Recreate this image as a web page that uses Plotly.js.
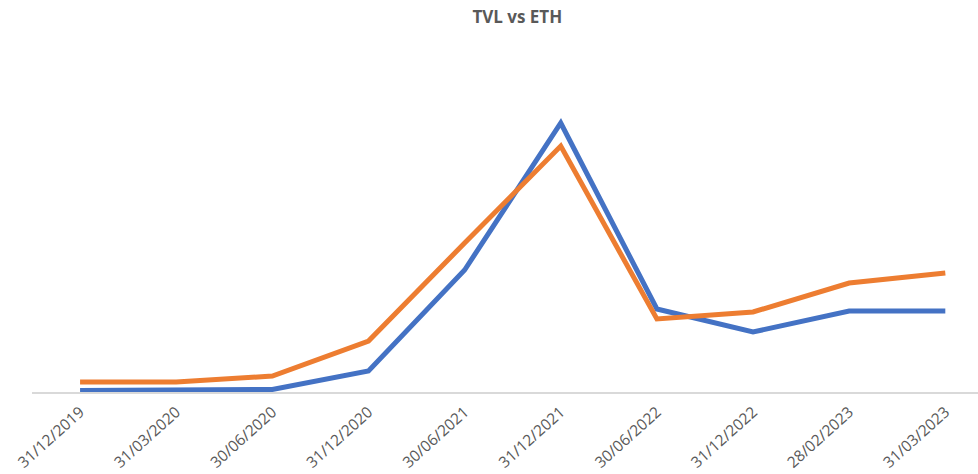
<!DOCTYPE html>
<html>
<head>
<meta charset="utf-8">
<script src="https://cdn.plot.ly/plotly-3.0.1.min.js"></script>
<style>html,body{margin:0;padding:0;background:#fff;}#chart{width:978px;height:474px;}</style>
</head>
<body>
<div id="chart"></div>
<script>
const dates = ["31/12/2019","31/03/2020","30/06/2020","31/12/2020","30/06/2021","31/12/2021","30/06/2022","31/12/2022","28/02/2023","31/03/2023"];
const tvl = [1.5, 1.5, 2.5, 21, 122, 269, 83, 60, 81, 81];
const eth = [10, 10, 16, 51, 149, 246, 73, 80, 109, 119];

const traces = [
  {x: dates, y: tvl, type: "scatter", mode: "lines", name: "TVL",
   line: {color: "#4472C4", width: 5, shape: "linear"}},
  {x: dates, y: eth, type: "scatter", mode: "lines", name: "ETH",
   line: {color: "#ED7D31", width: 5, shape: "linear"}}
];

const layout = {
  width: 978, height: 474,
  margin: {l: 32, r: 0, t: 92, b: 82},
  paper_bgcolor: "#ffffff", plot_bgcolor: "#ffffff",
  showlegend: false,
  title: {text: "<b>TVL vs ETH</b>", x: 0.513, xref: "paper", y: 0.965, yanchor: "middle",
          font: {family: "Open Sans, Liberation Sans, sans-serif", size: 17, color: "#595959"}},
  xaxis: {type: "category", range: [-0.5, 9.34], showgrid: false, zeroline: false,
          showline: true, linecolor: "#d9d9d9", linewidth: 2, ticks: "", ticklabelstandoff: 3,
          tickangle: -42, tickfont: {family: "Open Sans, Liberation Sans, sans-serif", size: 15.5, color: "#595959"}},
  yaxis: {range: [0, 300], showgrid: false, zeroline: false, showline: false, showticklabels: false, ticks: ""}
};

Plotly.newPlot("chart", traces, layout, {displayModeBar: false, staticPlot: true});
</script>
</body>
</html>
